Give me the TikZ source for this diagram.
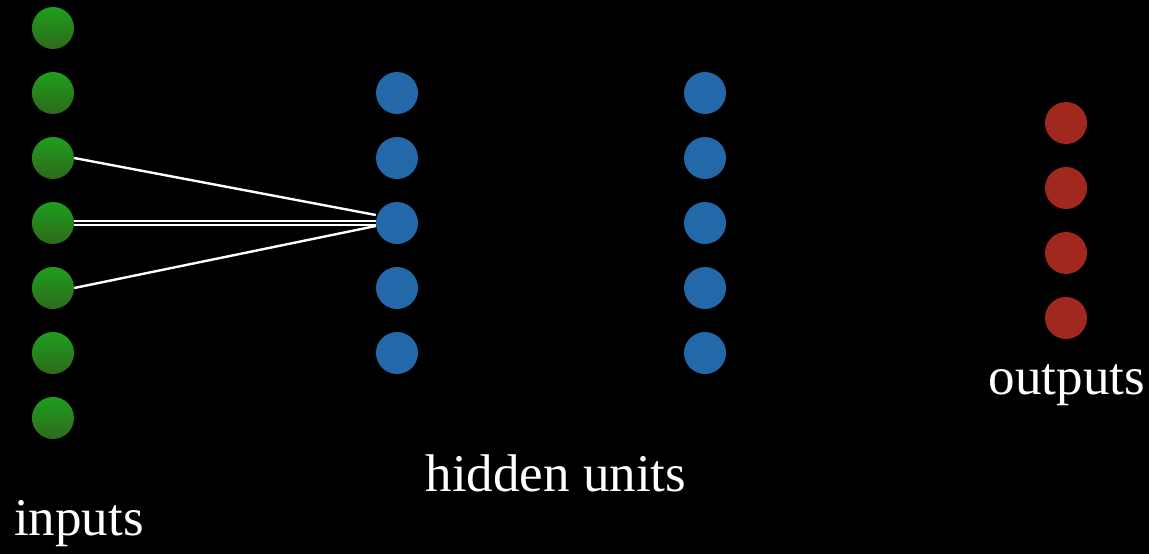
\documentclass[tikz,border=0pt]{standalone}
\usepackage{fontspec}
\setmainfont{Liberation Serif}
\definecolor{unitGreenTop}{HTML}{1E9E1E}
\definecolor{unitGreenBot}{HTML}{2E6A1A}
\definecolor{unitBlue}{HTML}{2368A8}
\definecolor{unitRed}{HTML}{A0281E}
\tikzset{
  unit/.style={
    circle, minimum size=42pt, inner sep=0pt, draw=none},
  inunit/.style={
    unit, top color=unitGreenTop, bottom color=unitGreenBot},
  hidunit/.style={
    unit, fill=unitBlue},
  outunit/.style={
    unit, fill=unitRed},
  wire/.style={
    draw=white, line width=2.4pt},
  label/.style={
    text=white, inner sep=0pt, font=\fontsize{53}{60}\selectfont}
}

\begin{document}
\begin{tikzpicture}[x=1pt, y=-1pt]
    \fill[black] (0,0) rectangle (1149,554);
    % input column
    \foreach \i in {1,...,7} {
        \node[inunit] (in\i) at (53, {28+65*(\i-1)}) {};
    }
    % two hidden columns
    \foreach \i in {1,...,5} {
        \node[hidunit] (ha\i) at (397, {93+65*(\i-1)}) {};
        \node[hidunit] (hb\i) at (705, {93+65*(\i-1)}) {};
    }
    % output column
    \foreach \i in {1,...,4} {
        \node[outunit] (out\i) at (1066, {123+65*(\i-1)}) {};
    }
    % connections into one hidden unit
    \draw[wire] (in3.east) -- ([yshift=8pt]ha3.west);
    \draw[wire, double=black, double distance=1.2pt, line width=2pt] (in4.east) -- (ha3.west);
    \draw[wire] (in5.east) -- ([yshift=-3pt]ha3.west);
    % labels
    \node[label, anchor=base west] (lin) at (14,535) {inputs};
    \node[label, anchor=base] (lhid) at (556,491) {hidden units};
    \node[label, anchor=base] (lout) at (1067,394) {outputs};
\end{tikzpicture}
\end{document}
